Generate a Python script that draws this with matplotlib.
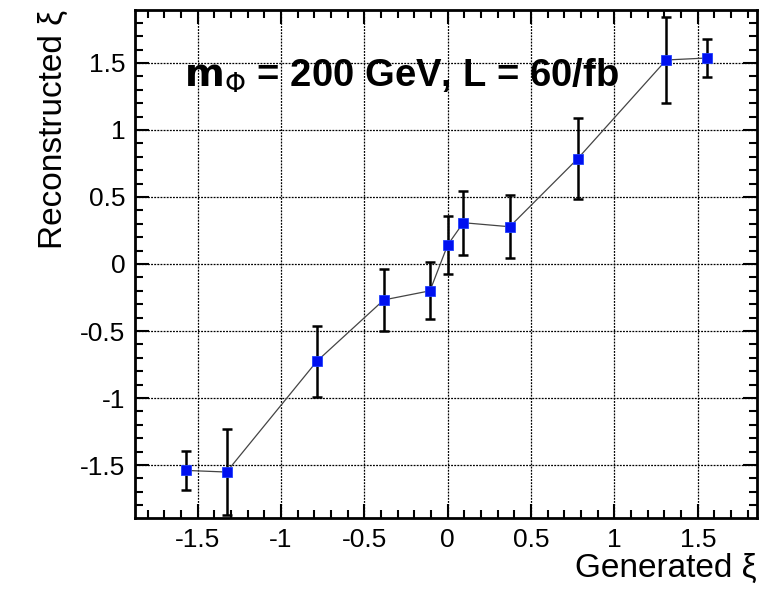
import numpy as np
import matplotlib
matplotlib.use("Agg")
import matplotlib.pyplot as plt
from matplotlib.ticker import MultipleLocator

# generated vs reconstructed xi
xi_gen = [-1.568, -1.326, -0.784, -0.383, -0.106, 0.0, 0.094, 0.372, 0.780, 1.311, 1.557]
xi_rec = [-1.540, -1.552, -0.725, -0.268, -0.200, 0.142, 0.308, 0.278, 0.786, 1.522, 1.537]
xi_err = [0.147, 0.323, 0.265, 0.230, 0.212, 0.219, 0.238, 0.235, 0.300, 0.320, 0.143]

tick_vals = [-1.5, -1, -0.5, 0, 0.5, 1, 1.5]
tick_text = ['-1.5', '-1', '-0.5', '0', '0.5', '1', '1.5']

plt.rcParams['font.family'] = ['Liberation Sans', 'DejaVu Sans']

fig = plt.figure(figsize=(7.64, 5.91), dpi=100)
ax = fig.add_axes([0.1767, 0.1235, 0.8141, 0.8596])

ax.plot(xi_gen, xi_rec, color='#444444', lw=0.9, zorder=3)
ax.errorbar(xi_gen, xi_rec, yerr=xi_err, fmt='none', ecolor='black',
            elinewidth=1.8, capsize=3.5, capthick=1.8, zorder=4)
ax.plot(xi_gen, xi_rec, 's', color='#0010f0', markersize=7,
        markeredgecolor='#2040ff', markeredgewidth=0.6, zorder=5)

ax.set_xlim(-1.875, 1.855)
ax.set_ylim(-1.895, 1.895)

ax.xaxis.set_minor_locator(MultipleLocator(0.1))
ax.yaxis.set_minor_locator(MultipleLocator(0.1))
ax.set_xticks(tick_vals)
ax.set_xticklabels(tick_text)
ax.set_yticks(tick_vals)
ax.set_yticklabels(tick_text)

ax.tick_params(which='both', direction='in', top=True, right=True, labelsize=19)
ax.tick_params(axis='x', pad=7)
ax.tick_params(axis='y', pad=7)
ax.tick_params(which='major', length=10, width=1.5)
ax.tick_params(which='minor', length=6, width=1.5)

for s in ax.spines.values():
    s.set_linewidth(2)

ax.grid(True, which='major', color='black', linestyle=(0, (1.5, 1)), lw=0.9)
ax.set_axisbelow(True)

ax.set_xlabel('Generated ξ', fontsize=24, loc='right', labelpad=1)
ax.set_ylabel('Reconstructed ξ', fontsize=24, loc='top', labelpad=8)

ax.text(0.078, 0.87, r'$\mathbf{m}_{\Phi}$ = 200 GeV, L = 60/fb', transform=ax.transAxes,
        fontsize=27.5, fontweight='bold', ha='left', va='center')

fig.savefig('out.png', dpi=100)
